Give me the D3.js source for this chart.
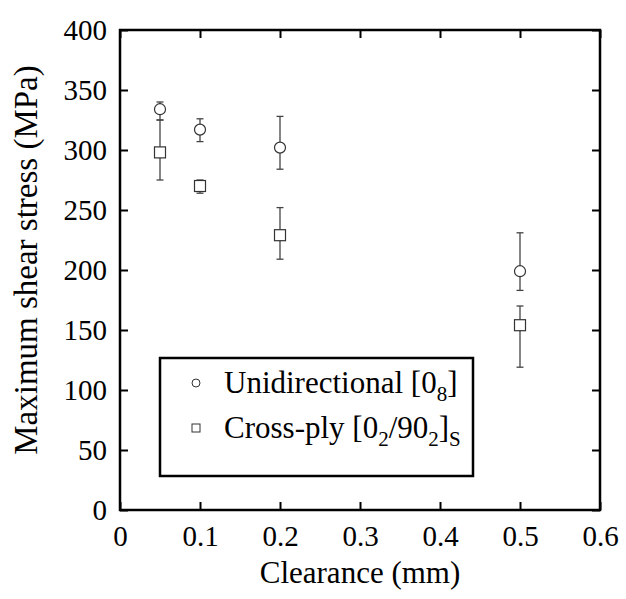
<!DOCTYPE html>
<html><head><meta charset="utf-8">
<script src="https://cdn.jsdelivr.net/npm/d3@7"></script>
<style>body{margin:0;background:#fff}svg{display:block}</style>
</head><body><svg id="c" width="626" height="599"></svg>
<script>
const clearance = [0.05, 0.1, 0.2, 0.5];
const uniMean = [334, 317, 302, 199];
const uniUpper = [340, 326, 328, 231];
const uniLower = [325, 307, 284, 183];
const crossMean = [298, 270, 229, 154];
const crossUpper = [325, 275, 252, 170];
const crossLower = [275, 264, 209, 119];
const xTicks = [0, 0.1, 0.2, 0.3, 0.4, 0.5, 0.6];
const yTicks = [0, 50, 100, 150, 200, 250, 300, 350, 400];

const FONT = "'Liberation Serif'";
const svg = d3.select("#c");
const L = 120, R = 600, T = 30, B = 510;
const x = d3.scaleLinear().domain([0, 0.6]).range([L, R]);
const y = d3.scaleLinear().domain([0, 400]).range([B, T]);
const tfs = 29;

function styleAxis(a) {
  a.attr("font-family", null).attr("font-size", null);
  a.select(".domain").remove();
  a.selectAll("line").attr("stroke", "#000").attr("stroke-width", 2);
  a.selectAll("text").style("font-family", FONT).style("font-size", tfs + "px").attr("fill", "#000");
}
svg.append("g").attr("transform", `translate(0,${B})`)
  .call(d3.axisBottom(x).tickValues(xTicks).tickSize(-8).tickFormat(d => String(d)).tickPadding(15))
  .call(styleAxis).call(a => a.selectAll("text").attr("dy", "0.71em"));
svg.append("g").attr("transform", `translate(0,${T})`)
  .call(d3.axisTop(x).tickValues(xTicks).tickSize(-8).tickFormat(""))
  .call(styleAxis);
svg.append("g").attr("transform", `translate(${L},0)`)
  .call(d3.axisLeft(y).tickValues(yTicks).tickSize(-8).tickPadding(13))
  .call(styleAxis).call(a => a.selectAll("text").attr("dy", "0.33em"));
svg.append("g").attr("transform", `translate(${R},0)`)
  .call(d3.axisRight(y).tickValues(yTicks).tickSize(-8).tickFormat(""))
  .call(styleAxis);

svg.append("rect").attr("x", L).attr("y", T).attr("width", R - L).attr("height", B - T)
  .attr("fill", "none").attr("stroke", "#000").attr("stroke-width", 2.5);

function errBars(upper, lower) {
  const eg = svg.append("g").attr("stroke", "#444").attr("stroke-width", 1.3);
  clearance.forEach((c, i) => {
    const cx = x(c);
    eg.append("line").attr("x1", cx).attr("x2", cx).attr("y1", y(upper[i])).attr("y2", y(lower[i]));
    [upper[i], lower[i]].forEach(v => eg.append("line").attr("x1", cx - 3.5).attr("x2", cx + 3.5).attr("y1", y(v)).attr("y2", y(v)));
  });
}
errBars(uniUpper, uniLower);
errBars(crossUpper, crossLower);

svg.append("g").selectAll("circle").data(clearance).join("circle")
  .attr("cx", d => x(d)).attr("cy", (d, i) => y(uniMean[i])).attr("r", 5.5)
  .attr("fill", "#fff").attr("stroke", "#333").attr("stroke-width", 1.2);
svg.append("g").selectAll("rect").data(clearance).join("rect")
  .attr("x", d => x(d) - 5.5).attr("y", (d, i) => y(crossMean[i]) - 5.5).attr("width", 11).attr("height", 11)
  .attr("fill", "#fff").attr("stroke", "#333").attr("stroke-width", 1.2);

svg.append("text").attr("x", (L + R) / 2).attr("y", 583).attr("text-anchor", "middle")
  .style("font-family", FONT).style("font-size", "31px").text("Clearance (mm)");
svg.append("text").attr("transform", `translate(37,260) rotate(-90)`).attr("text-anchor", "middle")
  .style("font-family", FONT).style("font-size", "33px").text("Maximum shear stress (MPa)");

const lg = svg.append("g");
lg.append("rect").attr("x", 160).attr("y", 358).attr("width", 313).attr("height", 118).attr("fill", "#fff").attr("stroke", "#000").attr("stroke-width", 2.5);
lg.append("circle").attr("cx", 196).attr("cy", 383).attr("r", 4).attr("fill", "#fff").attr("stroke", "#333").attr("stroke-width", 1);
lg.append("rect").attr("x", 192).attr("y", 424).attr("width", 8).attr("height", 8).attr("fill", "#fff").attr("stroke", "#333").attr("stroke-width", 1);
const lfs = 31, sfs = 21;
const t1 = lg.append("text").attr("x", 224).attr("y", 393).style("font-family", FONT).style("font-size", lfs + "px");
t1.append("tspan").text("Unidirectional [0");
t1.append("tspan").style("font-size", sfs + "px").attr("dy", 8).text("8");
t1.append("tspan").attr("dy", -8).text("]");
const t2 = lg.append("text").attr("x", 224).attr("y", 438).style("font-family", FONT).style("font-size", lfs + "px");
t2.append("tspan").text("Cross-ply [0");
t2.append("tspan").style("font-size", sfs + "px").attr("dy", 8).text("2");
t2.append("tspan").attr("dy", -8).text("/90");
t2.append("tspan").style("font-size", sfs + "px").attr("dy", 8).text("2");
t2.append("tspan").attr("dy", -8).text("]");
t2.append("tspan").style("font-size", sfs + "px").attr("dy", 8).text("S");
</script></body></html>
